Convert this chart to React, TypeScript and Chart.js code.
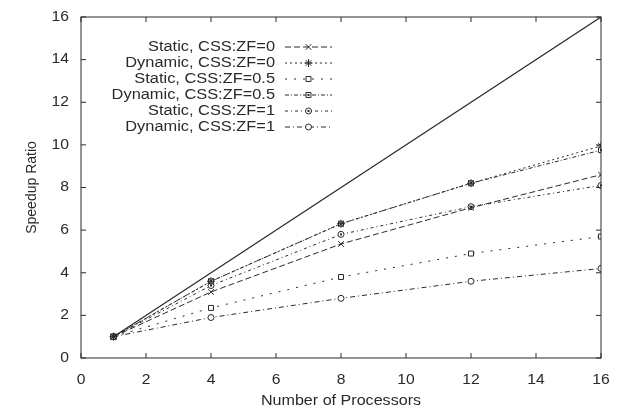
import React, { useEffect, useRef } from "react";
import { Chart, registerables } from "chart.js";
import { drawPoint } from "chart.js/helpers";

Chart.register(...registerables);

const processors = [1, 4, 8, 12, 16];
const idealSpeedup = [1, 16];
const idealProcs = [1, 16];
const staticZF0 = [1, 3.1, 5.35, 7.05, 8.6];
const dynamicZF0 = [1, 3.6, 6.3, 8.2, 9.95];
const staticZF05 = [1, 2.35, 3.8, 4.9, 5.7];
const dynamicZF05 = [1, 3.6, 6.3, 8.2, 9.75];
const staticZF1 = [1, 3.4, 5.8, 7.1, 8.1];
const dynamicZF1 = [1, 1.9, 2.8, 3.6, 4.2];
const seriesLabels = [
  "Static, CSS:ZF=0",
  "Dynamic, CSS:ZF=0",
  "Static, CSS:ZF=0.5",
  "Dynamic, CSS:ZF=0.5",
  "Static, CSS:ZF=1",
  "Dynamic, CSS:ZF=1",
];
const xTicks = [0, 2, 4, 6, 8, 10, 12, 14, 16];
const yTicks = [0, 2, 4, 6, 8, 10, 12, 14, 16];
const xTitle = "Number of Processors";
const yTitle = "Speedup Ratio";

const INK = "#2a2a2a";
const FONT = "'Liberation Sans', Arial, sans-serif";

const styles = [
  { dash: [6, 3], point: "crossRot", radius: 4, dot: false },
  { dash: [2, 3], point: "star", radius: 4, dot: false },
  { dash: [2, 7], point: "rect", radius: 3.5, dot: false },
  { dash: [4, 2, 1, 2], point: "rect", radius: 3.5, dot: true },
  { dash: [3, 3, 1, 3], point: "circle", radius: 3, dot: true },
  { dash: [5, 3, 1, 3], point: "circle", radius: 3, dot: false },
];

const pts = (xs: number[], ys: number[]) => xs.map((x, i) => ({ x, y: ys[i] }));

function stretchText(ctx: any, text: string, x: number, y: number, align: string, size: number, sx: number) {
  ctx.save();
  ctx.font = `${size}px ${FONT}`;
  ctx.fillStyle = INK;
  ctx.textAlign = align;
  ctx.textBaseline = "middle";
  ctx.translate(x, y);
  ctx.scale(sx, 1);
  ctx.fillText(text, 0, 0);
  ctx.restore();
}

function marker(ctx: any, i: number, x: number, y: number) {
  ctx.save();
  ctx.setLineDash([]);
  ctx.strokeStyle = INK;
  ctx.fillStyle = "#fff";
  ctx.lineWidth = 1;
  drawPoint(ctx, { pointStyle: styles[i].point, radius: styles[i].radius, rotation: 0, borderWidth: 1 } as any, x, y);
  if (styles[i].dot) {
    ctx.fillStyle = INK;
    ctx.fillRect(x - 1, y - 1, 2, 2);
  }
  ctx.restore();
}

const framePlugin = {
  id: "frame",
  afterDatasetsDraw(chart: any) {
    const { ctx } = chart;
    styles.forEach((s, i) => {
      if (!s.dot) return;
      const meta = chart.getDatasetMeta(i + 1);
      meta.data.forEach((p: any) => {
        ctx.save();
        ctx.fillStyle = INK;
        ctx.fillRect(p.x - 1, p.y - 1, 2, 2);
        ctx.restore();
      });
    });
  },
  afterDraw(chart: any) {
    const { ctx, chartArea: a, scales } = chart;
    ctx.save();
    ctx.strokeStyle = INK;
    ctx.lineWidth = 1;
    ctx.setLineDash([]);
    ctx.strokeRect(a.left, a.top, a.right - a.left, a.bottom - a.top);
    const tl = 5;
    ctx.beginPath();
    xTicks.forEach((t) => {
      const x = scales.x.getPixelForValue(t);
      ctx.moveTo(x, a.bottom);
      ctx.lineTo(x, a.bottom - tl);
      ctx.moveTo(x, a.top);
      ctx.lineTo(x, a.top + tl);
    });
    yTicks.forEach((t) => {
      const y = scales.y.getPixelForValue(t);
      ctx.moveTo(a.left, y);
      ctx.lineTo(a.left + tl, y);
      ctx.moveTo(a.right, y);
      ctx.lineTo(a.right - tl, y);
    });
    ctx.stroke();

    // tick labels
    xTicks.forEach((t) => {
      stretchText(ctx, String(t), scales.x.getPixelForValue(t), a.bottom + 22, "center", 14, 1.12);
    });
    yTicks.forEach((t) => {
      stretchText(ctx, String(t), a.left - 12, scales.y.getPixelForValue(t), "right", 14, 1.12);
    });
    // axis titles
    stretchText(ctx, xTitle, (a.left + a.right) / 2, a.bottom + 43, "center", 14, 1.15);
    ctx.save();
    ctx.translate(32, (a.top + a.bottom) / 2);
    ctx.rotate(-Math.PI / 2);
    ctx.font = `14px ${FONT}`;
    ctx.fillStyle = INK;
    ctx.textAlign = "center";
    ctx.textBaseline = "middle";
    ctx.fillText(yTitle, 0, 0);
    ctx.restore();

    // legend
    const textRight = 275;
    const lineStart = 285;
    const lineEnd = 332;
    const y0 = 47;
    const dy = 16;
    seriesLabels.forEach((lab, i) => {
      const y = y0 + dy * i;
      stretchText(ctx, lab, textRight, y, "right", 14, 1.17);
      ctx.save();
      ctx.setLineDash(styles[i].dash);
      ctx.lineWidth = 1;
      ctx.strokeStyle = INK;
      ctx.beginPath();
      ctx.moveTo(lineStart, y);
      ctx.lineTo(lineEnd, y);
      ctx.stroke();
      ctx.restore();
      marker(ctx, i, (lineStart + lineEnd) / 2, y);
    });
    ctx.restore();
  },
};

export default function App() {
  const ref = useRef<HTMLCanvasElement | null>(null);
  useEffect(() => {
    if (!ref.current) return;
    const series = [staticZF0, dynamicZF0, staticZF05, dynamicZF05, staticZF1, dynamicZF1];
    const datasets: any[] = [
      {
        label: "Ideal",
        data: pts(idealProcs, idealSpeedup),
        borderColor: INK,
        borderWidth: 1.2,
        pointRadius: 0,
        fill: false,
      },
      ...series.map((s, i) => ({
        label: seriesLabels[i],
        data: pts(processors, s),
        borderColor: INK,
        backgroundColor: "#fff",
        borderWidth: 1,
        borderDash: styles[i].dash,
        pointStyle: styles[i].point,
        pointRadius: styles[i].radius,
        pointBorderColor: INK,
        pointBackgroundColor: "#fff",
        pointBorderWidth: 1,
        fill: false,
      })),
    ];
    const chart = new Chart(ref.current, {
      type: "line",
      data: { datasets },
      options: {
        animation: false,
        responsive: false,
        maintainAspectRatio: false,
        layout: { padding: { top: 17, right: 20, left: 0, bottom: 0 } },
        plugins: { legend: { display: false }, tooltip: { enabled: false } },
        scales: {
          x: {
            type: "linear",
            min: 0,
            max: 16,
            afterBuildTicks: (s: any) => {
              s.ticks = xTicks.map((v) => ({ value: v }));
            },
            afterFit: (s: any) => {
              s.height = 52;
            },
            grid: { display: false, drawTicks: false },
            border: { display: false },
            ticks: { display: false },
          },
          y: {
            type: "linear",
            min: 0,
            max: 16,
            afterBuildTicks: (s: any) => {
              s.ticks = yTicks.map((v) => ({ value: v }));
            },
            afterFit: (s: any) => {
              s.width = 81;
            },
            grid: { display: false, drawTicks: false },
            border: { display: false },
            ticks: { display: false },
          },
        },
      },
      plugins: [framePlugin],
    });
    return () => chart.destroy();
  }, []);
  return (
    <div style={{ position: "absolute", left: 0, top: 0, width: 621, height: 410, background: "#fff" }}>
      <canvas ref={ref} width={621} height={410} style={{ width: 621, height: 410 }} />
    </div>
  );
}
